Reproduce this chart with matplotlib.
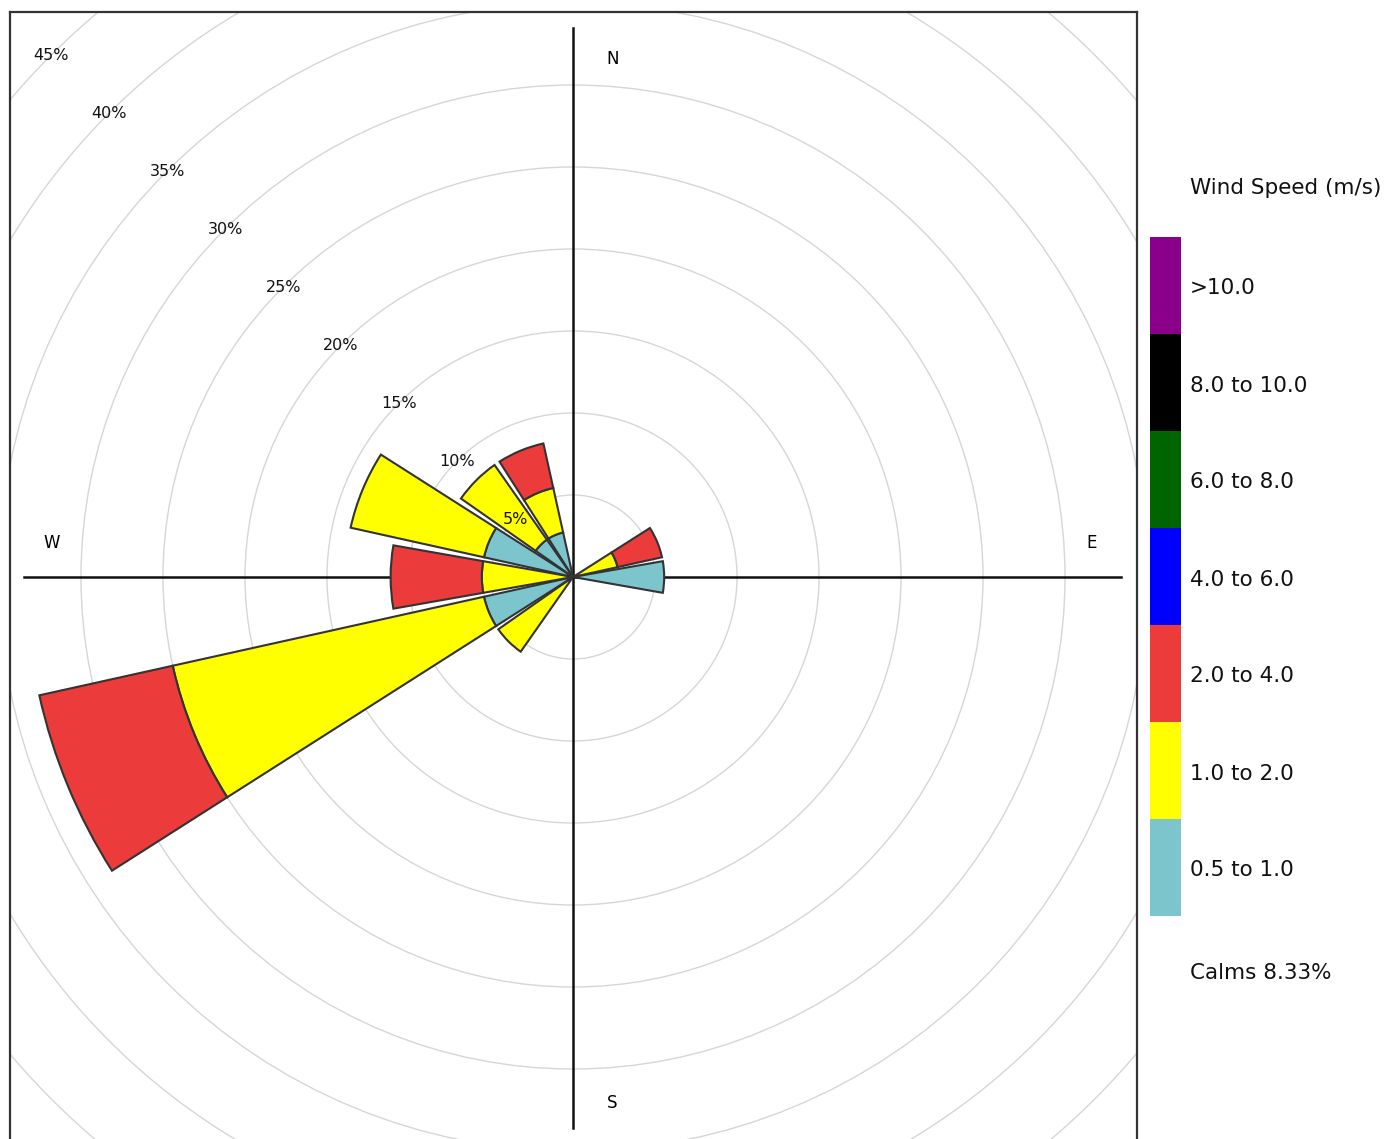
# import modules
import matplotlib
matplotlib.use('Agg')
import matplotlib.pyplot as plt
from matplotlib.patches import Wedge, Circle

# wind directions (compass order, clockwise from north)
directions = [0, 22.5, 45, 67.5, 90, 112.5, 135, 157.5,
              180, 202.5, 225, 247.5, 270, 292.5, 315, 337.5]

# frequency (%) per direction for each speed bin
speed_05_1 = [0, 0, 0, 0, 5.56, 0, 0, 0, 0, 0, 0, 5.56, 0, 5.56, 2.78, 2.78]
speed_1_2 = [0, 0, 0, 2.78, 0, 0, 0, 0, 0, 0, 5.56, 19.44, 5.56, 8.33, 5.56, 2.78]
speed_2_4 = [0, 0, 0, 2.78, 0, 0, 0, 0, 0, 0, 0, 8.33, 5.56, 0, 0, 2.78]

# legend bins, bottom to top
bin_labels = ['0.5 to 1.0', '1.0 to 2.0', '2.0 to 4.0', '4.0 to 6.0',
              '6.0 to 8.0', '8.0 to 10.0', '>10.0']
bin_colors = ['#7cc5cc', '#ffff00', '#ec3b3b', '#0000ff',
              '#006400', '#000000', '#8b008b']
calms = 8.33

# rings
ring_levels = [5, 10, 15, 20, 25, 30, 35, 40, 45]

# figure size in pixels
W, H = 1393, 1139
def px(x0, y0, x1, y1):
    return [x0 / W, 1 - y1 / H, (x1 - x0) / W, (y1 - y0) / H]

plt.rcParams['font.family'] = 'DejaVu Sans'
fig = plt.figure(figsize=(W / 100, H / 100), dpi=100)

# main rose axes (center at pixel 573,577; 16.4 px per percent)
ax = fig.add_axes(px(10, 12, 1137, 1142))
scale = 16.4
ax.set_xlim(-563 / scale, 564 / scale)
ax.set_ylim(-(1142 - 577) / scale, 565 / scale)
ax.set_xticks([])
ax.set_yticks([])
for sp in ax.spines.values():
    sp.set_color('#333333')
    sp.set_linewidth(1.6)

# grey rings and their labels along the NW diagonal
for r in ring_levels:
    ax.add_patch(Circle((0, 0), r, fill=False, ec='#d6d6d6', lw=1.0, zorder=1))
    ax.text(-r * 0.707, r * 0.707, str(r) + '%', fontsize=11.5,
            ha='center', va='center', color='#111111', zorder=5)

# cross lines
ax.plot([-33.5, 33.4], [0, 0], color='#111111', lw=1.8, zorder=2)
ax.plot([0, 0], [-33.6, 33.5], color='#111111', lw=1.8, zorder=2)

# compass labels
ax.text(2.4, 31.6, 'N', fontsize=12, ha='center', va='center')
ax.text(2.4, -32.1, 'S', fontsize=12, ha='center', va='center')
ax.text(-31.8, 2.1, 'W', fontsize=12, ha='center', va='center')
ax.text(31.6, 2.1, 'E', fontsize=12, ha='center', va='center')

# stacked sectors
series = [speed_05_1, speed_1_2, speed_2_4]
for i, d in enumerate(directions):
    base = 0
    ang = 90 - d
    for s, col in zip(series, bin_colors):
        v = s[i]
        if v > 0:
            ax.add_patch(Wedge((0, 0), base + v, ang - 10, ang + 10, width=v,
                               fc=col, ec='#333333', lw=1.5, zorder=3))
            base += v

# colour key on the right
cax = fig.add_axes(px(1150, 237, 1181, 916))
for i, col in enumerate(bin_colors):
    cax.bar(0, 1, bottom=i, width=1, color=col)
cax.set_xlim(-0.5, 0.5)
cax.set_ylim(0, len(bin_colors))
cax.axis('off')

seg = (916 - 237) / len(bin_colors)
for i, lab in enumerate(bin_labels):
    yc = 916 - seg * (i + 0.5) + 3
    fig.text(1190 / W, 1 - yc / H, lab, fontsize=15.5, va='center', ha='left',
             color='#111111')

fig.text(1190 / W, 1 - 188 / H, 'Wind Speed (m/s)', fontsize=15.5,
         va='center', ha='left', color='#111111')
fig.text(1190 / W, 1 - 973 / H, 'Calms ' + str(calms) + '%', fontsize=15.5,
         va='center', ha='left', color='#111111')

plt.savefig('out.png', dpi=100)
plt.close()
